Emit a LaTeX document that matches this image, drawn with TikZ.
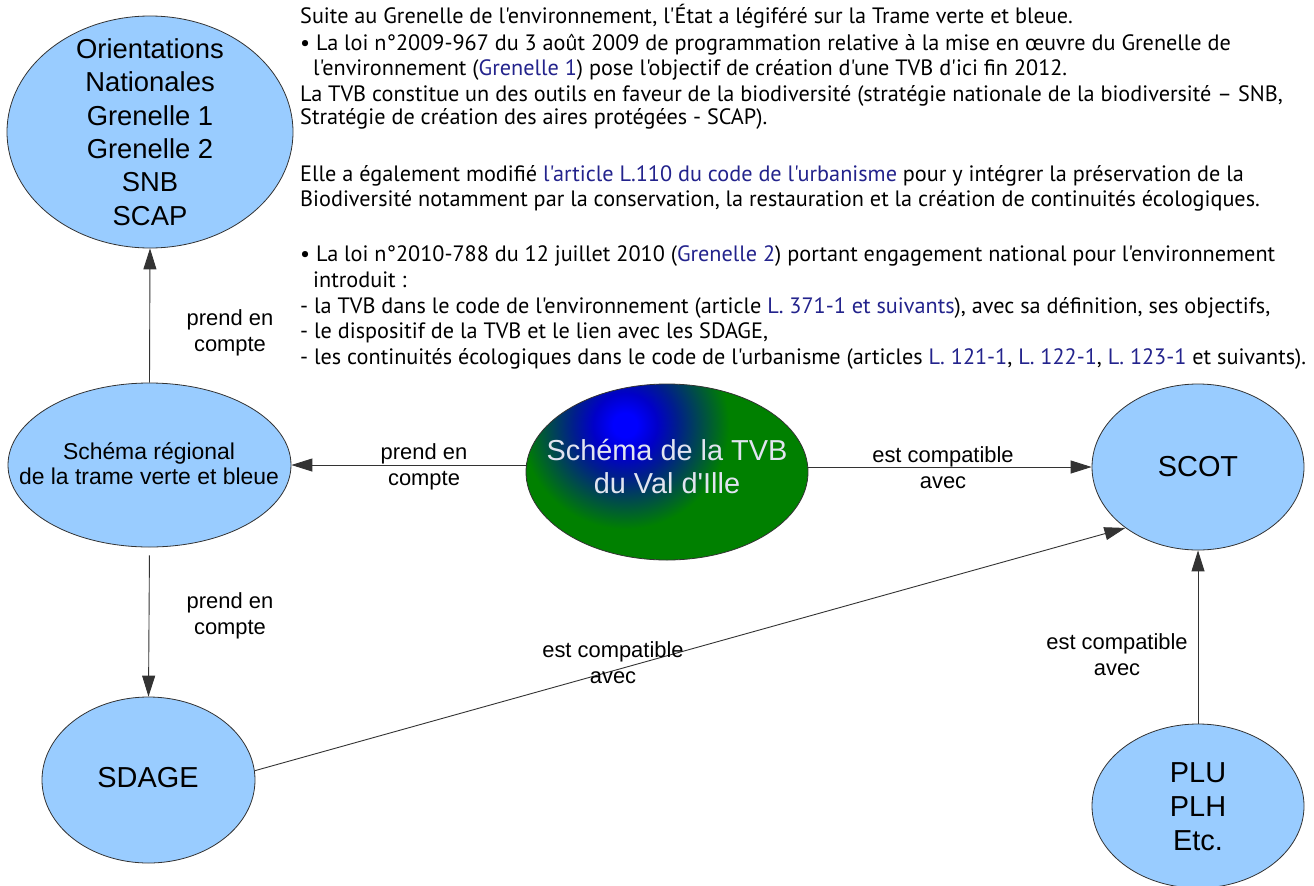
\documentclass[tikz,border=0pt]{standalone}
\usepackage{fontspec}
\setmainfont[Ligatures=TeXOff]{Liberation Sans}
\newfontfamily\parfont[Ligatures=TeXOff]{PT Sans}
\usetikzlibrary{shapes.geometric,arrows.meta,calc}
\definecolor{bub}{RGB}{153,204,255}
\definecolor{edgegray}{RGB}{51,51,51}
\definecolor{link}{RGB}{35,35,140}
\definecolor{tvbgreen}{RGB}{0,128,0}
\definecolor{tvbblue}{RGB}{0,0,255}
\definecolor{tvbdeep}{RGB}{0,0,200}
\definecolor{tvbnavy}{RGB}{0,30,140}
\definecolor{tvbteal}{RGB}{0,75,75}
\definecolor{tvbtxt}{RGB}{225,228,240}
\pgfdeclareradialshading{tvbshade}{\pgforigin}{%
  color(0bp)=(tvbblue); color(1.5bp)=(tvbblue); color(4bp)=(tvbdeep);
  color(6.5bp)=(tvbnavy); color(9.5bp)=(tvbteal); color(13bp)=(tvbgreen);
  color(50bp)=(tvbgreen)}
\newlength\parlinewidth
\begin{document}
\settowidth\parlinewidth{\parfont\fontsize{20}{20}\selectfont - les continuités écologiques dans le code de l'urbanisme (articles L. 121-1, L. 122-1, L. 123-1 et suivants).}%
\pgfmathsetmacro\parsize{20*(1009.77/\parlinewidth)}%
\begin{tikzpicture}[x=1bp,y=-1bp,
  bubble/.style={ellipse, draw=edgegray, line width=0.8bp, fill=bub, inner sep=0pt},
  conn/.style={draw=edgegray, line width=0.9bp, -{Triangle[length=21bp,width=13bp]}},
  lab/.style={align=center, inner sep=0pt, font=\fontsize{22}{26}\selectfont},
  bigtxt/.style={align=center, inner sep=0pt, font=\fontsize{29}{34}\selectfont},
  bodytext/.style={anchor=base west, inner sep=0pt, font=\parfont\fontsize{\parsize}{25}\selectfont}]
\fill[white] (0,0) rectangle (1314,885);
\useasboundingbox (0,0) rectangle (1314,885);

% ellipses
\node[bubble, minimum width=286bp, minimum height=232bp] (orient) at (150,132) {};
\node[bubble, minimum width=283bp, minimum height=164bp] (reg) at (149.5,465) {};
\node[bubble, minimum width=213bp, minimum height=166bp] (sdage) at (148.5,780) {};
\begin{scope}
  \clip (667,472) ellipse [x radius=141, y radius=88];
  \shade[shading=tvbshade] (625,425) circle [radius=200];
\end{scope}
\node[ellipse, draw=edgegray, line width=0.8bp, inner sep=0pt,
      minimum width=282bp, minimum height=176bp] (tvb) at (667,472) {};
\node[bubble, minimum width=212bp, minimum height=166bp] (scot) at (1198,467) {};
\node[bubble, minimum width=212bp, minimum height=164bp] (plu) at (1198,806) {};

% ellipse texts
\node[align=center, inner sep=0pt, font=\fontsize{27.5}{33.5}\selectfont] (orient-t) at (orient.center) {Orientations\\Nationales\\Grenelle 1\\Grenelle 2\\SNB\\SCAP};
\node[align=center, inner sep=0pt, font=\fontsize{23}{25}\selectfont] (reg-t) at (149,464) {Schéma régional\\de la trame verte et bleue};
\node[bigtxt, text=tvbtxt, font=\fontsize{29}{33}\selectfont] (tvb-t) at (667,466.5) {Schéma de la TVB\\du Val d'Ille};
\node[bigtxt] (scot-t) at (scot.center) {SCOT};
\node[bigtxt] (sdage-t) at (148,778) {SDAGE};
\node[bigtxt] (plu-t) at (1198,807) {PLU\\PLH\\Etc.};

% connectors
\draw[conn] (reg.north) -- (orient.south);
\draw[conn, shorten <=8bp] (reg.south) -- (sdage.north);
\draw[conn] (tvb.west |- reg.east) -- (reg.east);
\draw[conn] (tvb.east |- scot.west) -- (scot.west);
\draw[conn] (sdage.5) -- (scot.220);
\draw[conn] (plu.north) -- (scot.south);

% connector labels
\node[lab] (lab-or) at (230,333) {prend en\\compte};
\node[lab] (lab-rs) at (230,616) {prend en\\compte};
\node[lab] (lab-tr) at (424,467) {prend en\\compte};
\node[lab] (lab-ts) at (943,468) {est compatible\\avec};
\node[lab] (lab-ss) at (613,663) {est compatible\\avec};
\node[lab] (lab-ps) at (1117,655) {est compatible\\avec};

% paragraph
\node[bodytext] (p1) at (300,23) {Suite au Grenelle de l'environnement, l'État a légiféré sur la Trame verte et bleue.};
\node[bodytext] (p2) at (300,50) {• La loi n°2009-967 du 3 août 2009 de programmation relative à la mise en œuvre du Grenelle de};
\node[bodytext] (p3) at (313,75) {l'environnement (\textcolor{link}{Grenelle 1}) pose l'objectif de création d'une TVB d'ici fin 2012.};
\node[bodytext] (p4) at (300,101) {La TVB constitue un des outils en faveur de la biodiversité (stratégie nationale de la biodiversité – SNB,};
\node[bodytext] (p5) at (300,124) {Stratégie de création des aires protégées - SCAP).};
\node[bodytext] (p6) at (300,181) {Elle a également modifié \textcolor{link}{l'article L.110 du code de l'urbanisme} pour y intégrer la préservation de la};
\node[bodytext] (p7) at (300,206) {Biodiversité notamment par la conservation, la restauration et la création de continuités écologiques.};
\node[bodytext] (p8) at (300,261) {• La loi n°2010-788 du 12 juillet 2010 (\textcolor{link}{Grenelle 2}) portant engagement national pour l'environnement};
\node[bodytext] (p9) at (313,287) {introduit :};
\node[bodytext] (p10) at (300,313) {- la TVB dans le code de l'environnement (article \textcolor{link}{L. 371-1 et suivants}), avec sa définition, ses objectifs,};
\node[bodytext] (p11) at (300,338) {- le dispositif de la TVB et le lien avec les SDAGE,};
\node[bodytext] (p12) at (300,364) {- les continuités écologiques dans le code de l'urbanisme (articles \textcolor{link}{L. 121-1}, \textcolor{link}{L. 122-1}, \textcolor{link}{L. 123-1} et suivants).};
\end{tikzpicture}
\end{document}
